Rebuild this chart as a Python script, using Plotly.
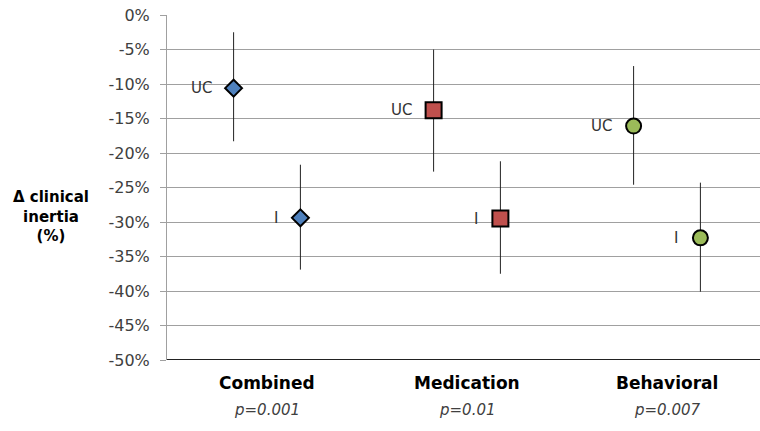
import plotly.graph_objects as go

categories = ["Combined", "Medication", "Behavioral"]
p_values = ["p=0.001", "p=0.01", "p=0.007"]
series_names = ["UC", "I"]

uc_mean = [-10.6, -13.8, -16.1]
uc_low = [-18.3, -22.7, -24.6]
uc_high = [-2.5, -5.0, -7.4]

i_mean = [-29.4, -29.5, -32.3]
i_low = [-36.9, -37.5, -40.1]
i_high = [-21.7, -21.2, -24.3]

y_tickvals = [0, -5, -10, -15, -20, -25, -30, -35, -40, -45, -50]
y_ticktext = ["0%", "-5%", "-10%", "-15%", "-20%", "-25%", "-30%", "-35%", "-40%", "-45%", "-50%"]

colors = ["#4F81BD", "#C0504D", "#9BBB59"]
symbols = ["diamond", "square", "circle"]
sizes = [13, 16, 15]
offset = 0.167

FONT = "DejaVu Sans"
fig = go.Figure()

for k, cat in enumerate(categories):
    for name, mean, lo, hi, dx in [
        (series_names[0], uc_mean, uc_low, uc_high, -offset),
        (series_names[1], i_mean, i_low, i_high, offset),
    ]:
        fig.add_trace(go.Scatter(
            x=[k + 1 + dx], y=[mean[k]],
            mode="markers",
            marker=dict(symbol=symbols[k], size=sizes[k], color=colors[k],
                        line=dict(color="black", width=2)),
            error_y=dict(type="data", symmetric=False,
                         array=[hi[k] - mean[k]], arrayminus=[mean[k] - lo[k]],
                         width=0, thickness=1, color="#222222"),
            showlegend=False, cliponaxis=False,
        ))
        fig.add_annotation(x=k + 1 + dx, y=mean[k], xref="x", yref="y",
                           xanchor="right", yanchor="middle", xshift=-20,
                           text=name, showarrow=False,
                           font=dict(family=FONT, size=15, color="#333333"))

for k, cat in enumerate(categories):
    fig.add_annotation(x=k + 1, y=-0.067, xref="x", yref="paper", yanchor="middle",
                       text="<b>" + cat + "</b>", showarrow=False,
                       font=dict(family=FONT, size=17, color="black"))
    fig.add_annotation(x=k + 1, y=-0.145, xref="x", yref="paper", yanchor="middle",
                       text="<i>" + p_values[k] + "</i>", showarrow=False,
                       font=dict(family=FONT, size=15, color="#404040"))

fig.add_annotation(x=(51 - 167) / 593, y=0.415, xref="paper", yref="paper",
                   xanchor="center", yanchor="middle",
                   text="<b>Δ clinical<br>inertia<br>(%)</b>", showarrow=False,
                   font=dict(family=FONT, size=15, color="black"))

fig.update_layout(
    width=760, height=431,
    margin=dict(l=167, r=0, t=15, b=71),
    paper_bgcolor="white", plot_bgcolor="white",
    xaxis=dict(range=[0.5, 0.5 + 593 / 200], showgrid=False, zeroline=False,
               showticklabels=False, showline=False, ticks=""),
    yaxis=dict(range=[-50, 0], tickvals=y_tickvals, ticktext=y_ticktext,
               showgrid=True, gridcolor="#A0A0A0", gridwidth=1, zeroline=False,
               showline=True, linecolor="#A0A0A0", linewidth=1,
               ticks="outside", ticklen=6, tickcolor="#A0A0A0",
               ticklabelstandoff=7,
               tickfont=dict(family=FONT, size=16, color="#404040")),
)
fig.add_shape(type="line", xref="paper", yref="y", x0=0, x1=1, y0=-50, y1=-50,
              line=dict(color="#222222", width=2))

fig.write_html("out.html",
               config={"displayModeBar": False},
               post_script="document.body.style.margin='0';document.body.style.overflow='hidden';")
